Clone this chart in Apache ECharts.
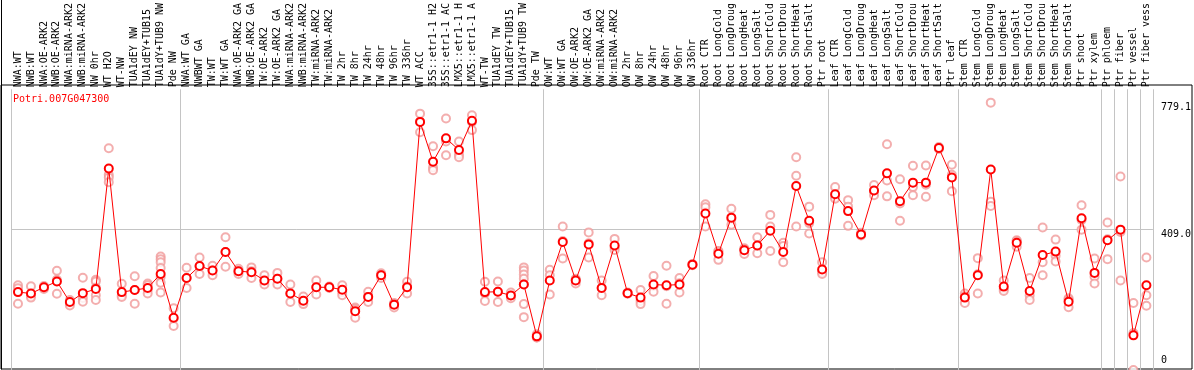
<!DOCTYPE html>
<html>
<head>
<meta charset="utf-8">
<script src="https://cdn.jsdelivr.net/npm/echarts@6/dist/echarts.min.js"></script>
<style>
  html, body { margin: 0; padding: 0; background: #fff; }
  #chart { width: 1194px; height: 370px; }
</style>
</head>
<body>
<div id="chart"></div>
<script>
const geneId = 'Potri.007G047300';

const categories = [
  'NWA:WT', 'NWB:WT', 'NWA:OE-ARK2', 'NWB:OE-ARK2', 'NWA:miRNA-ARK2', 'NWB:miRNA-ARK2',
  'NW 0hr', 'WT H2O', 'WT-NW', 'TUA1dEY NW', 'TUA1dEY+TUB15', 'TUA1dY+TUB9 NW', 'Pde NW',
  'NWA:WT GA', 'NWBWT GA', 'TW:WT', 'TW:WT GA', 'NWA:OE-ARK2 GA', 'NWB:OE-ARK2 GA',
  'TW:OE-ARK2', 'TW:OE-ARK2 GA', 'NWA:miRNA-ARK2', 'NWB:miRNA-ARK2', 'TW:miRNA-ARK2', 'TW:miRNA-ARK2',
  'TW 2hr', 'TW 8hr', 'TW 24hr', 'TW 48hr', 'TW 96hr', 'TW 336hr', 'WT ACC',
  '35S::etr1-1 H2', '35S::etr1-1 AC', 'LMX5::etr1-1 H', 'LMX5::etr1-1 A', 'WT-TW',
  'TUA1dEY TW', 'TUA1dEY+TUB15', 'TUA1dY+TUB9 TW', 'Pde TW',
  'OW:WT', 'OW:WT GA', 'OW:OE-ARK2', 'OW:OE-ARK2 GA', 'OW:miRNA-ARK2', 'OW:miRNA-ARK2',
  'OW 2hr', 'OW 8hr', 'OW 24hr', 'OW 48hr', 'OW 96hr', 'OW 336hr',
  'Root CTR', 'Root LongCold', 'Root LongDroug', 'Root LongHeat', 'Root LongSalt',
  'Root ShortCold', 'Root ShortDrou', 'Root ShortHeat', 'Root ShortSalt', 'Ptr root',
  'Leaf CTR', 'Leaf LongCold', 'Leaf LongDroug', 'Leaf LongHeat', 'Leaf LongSalt',
  'Leaf ShortCold', 'Leaf ShortDrou', 'Leaf ShortHeat', 'Leaf ShortSalt', 'Ptr leaf',
  'Stem CTR', 'Stem LongCold', 'Stem LongDroug', 'Stem LongHeat', 'Stem LongSalt',
  'Stem ShortCold', 'Stem ShortDrou', 'Stem ShortHeat', 'Stem ShortSalt', 'Ptr shoot',
  'Ptr xylem', 'Ptr phloem', 'Ptr fiber', 'Ptr vessel', 'Ptr fiber vess'
];

const means = [
  227, 223, 241, 258, 198, 224, 236, 587, 227, 233, 239, 280, 152,
  268, 303, 290, 344, 288, 285, 261, 266, 223, 202, 241, 241, 234, 171, 213,
  276, 190, 241, 723, 607, 675, 641, 726, 227, 228, 217, 249, 98,
  261, 373, 261, 366, 239, 363, 224, 211, 249, 247, 249, 307,
  456, 339, 444, 349, 363, 406, 344, 536, 435, 293,
  512, 463, 395, 523, 573, 492, 546, 546, 647, 561,
  211, 276, 584, 243, 371, 230, 335, 345, 199, 442,
  283, 378, 409, 101, 247
];

const replicates = [
  [247, 238, 193], [244, 217, 211], [245, 239, 236], [289, 263, 222], [204, 195, 188],
  [269, 210, 199], [263, 258, 240, 218, 204], [646, 569, 561, 547], [251, 217, 213],
  [273, 233, 193], [252, 247, 234, 223], [331, 323, 314, 297, 271, 254, 226], [180, 150, 128],
  [298, 268, 239], [328, 302, 280], [304, 290, 276], [387, 344, 301], [295, 288, 280],
  [299, 288, 268], [276, 259, 249], [283, 266, 249], [249, 223, 198], [214, 200, 192],
  [261, 241, 220], [243, 241, 239], [247, 227, 218], [182, 178, 152], [228, 213, 198],
  [282, 277, 268], [195, 193, 182], [257, 243, 223], [747, 723, 693], [652, 590, 582],
  [733, 666, 626], [666, 628, 620], [742, 723, 699], [257, 223, 201], [258, 228, 198],
  [226, 216, 209], [299, 290, 278, 266, 250, 192, 154], [104, 95, 95],
  [292, 276, 220], [418, 376, 325], [266, 263, 252], [401, 369, 328], [261, 239, 218],
  [382, 358, 350], [226, 224, 222], [233, 201, 192], [274, 245, 228], [304, 244, 193],
  [268, 253, 226], [309, 307, 305],
  [483, 474, 418], [347, 345, 321], [470, 440, 423], [355, 352, 338], [387, 362, 340],
  [452, 418, 347], [371, 361, 314], [620, 566, 418], [476, 428, 398], [314, 285, 280],
  [533, 504, 499], [495, 476, 420], [400, 395, 392], [539, 521, 509], [658, 552, 506],
  [556, 485, 435], [595, 533, 509], [596, 540, 505], [650, 647, 644], [598, 569, 521],
  [223, 215, 195], [326, 279, 223], [779.1, 490, 478], [261, 236, 230], [378, 376, 359],
  [268, 217, 204], [415, 314, 276], [380, 333, 316], [209, 205, 183], [480, 437, 409],
  [325, 272, 252], [430, 381, 323], [564, 402, 261], [195, 108, 0], [328, 218, 187]
];

const groupStarts = [0, 13, 41, 53, 63, 73, 84, 85, 86, 87];
const yTickValues = [409.0, 779.1];
const yZeroLabel = [0];
const yMin = 0;
const yMax = 818;

const MONO = 'DejaVu Sans Mono';
const GRAY = '#c4c4c4';
const isGroupStart = (idx) => groupStarts.indexOf(idx) !== -1;

const replicatePoints = [];
replicates.forEach((arr, i) => arr.forEach(v => replicatePoints.push([i, v])));

const chart = echarts.init(document.getElementById('chart'), null, { renderer: 'canvas' });

chart.setOption({
  animation: false,
  backgroundColor: '#fff',
  title: {
    text: geneId,
    left: 8, top: 89,
    textStyle: { color: '#ff0000', fontFamily: MONO, fontSize: 10, fontWeight: 'normal' }
  },
  grid: [
    { left: 11.5, width: 1144, top: 85, height: 286.5, show: false },
    { left: 1, right: 2, top: 85, bottom: 1, show: true, borderColor: '#000', borderWidth: 1, backgroundColor: 'transparent' },
    { left: 1, right: 2, top: 0, bottom: 1, show: false }
  ],
  xAxis: [
    {
      gridIndex: 0, type: 'category', data: categories, position: 'top', boundaryGap: true,
      axisLine: { show: false },
      axisTick: { show: true, length: 85, interval: isGroupStart, lineStyle: { color: GRAY, width: 1 } },
      axisLabel: { interval: 0, rotate: 90, margin: 2, fontFamily: MONO, fontSize: 10, color: '#000' },
      splitLine: { show: true, interval: isGroupStart, lineStyle: { color: GRAY, width: 1 } }
    },
    { gridIndex: 1, type: 'value', show: false, min: 0, max: 1 },
    { gridIndex: 2, type: 'value', show: false, min: 0, max: 1 }
  ],
  yAxis: [
    {
      gridIndex: 0, type: 'value', min: yMin, max: yMax, position: 'right',
      axisLine: { show: false }, axisTick: { show: false }, splitLine: { show: false },
      axisLabel: {
        customValues: yTickValues, margin: 8, verticalAlign: 'top',
        fontFamily: MONO, fontSize: 10, color: '#000',
        formatter: (v) => Number(v).toFixed(1)
      }
    },
    {
      gridIndex: 0, type: 'value', min: yMin, max: yMax, position: 'right',
      axisLine: { show: false }, axisTick: { show: false }, splitLine: { show: false },
      axisLabel: {
        customValues: yZeroLabel, margin: 8, verticalAlign: 'bottom', padding: [0, 0, 5, 0],
        fontFamily: MONO, fontSize: 10, color: '#000',
        formatter: (v) => String(v)
      }
    },
    { gridIndex: 1, type: 'value', show: false, min: 0, max: 1 },
    {
      gridIndex: 2, type: 'value', position: 'right', min: 0, max: 1,
      axisLine: { show: true, lineStyle: { color: '#000', width: 1 } },
      axisTick: { show: false }, axisLabel: { show: false }, splitLine: { show: false }
    }
  ],
  series: [
    {
      type: 'scatter', xAxisIndex: 0, yAxisIndex: 0, data: replicatePoints,
      symbol: 'emptyCircle', symbolSize: 8, clip: false, silent: true, z: 2,
      itemStyle: { color: '#f09a9a', borderColor: '#f09a9a', borderWidth: 1.1 }
    },
    {
      type: 'line', xAxisIndex: 0, yAxisIndex: 0, data: means,
      symbol: 'emptyCircle', symbolSize: 8, showSymbol: true, z: 3, silent: true,
      lineStyle: { color: '#ff0000', width: 1 },
      itemStyle: { color: '#ff0000', borderColor: '#d40000', borderWidth: 1.6 },
      markLine: {
        silent: true, symbol: ['none', 'none'], label: { show: false },
        lineStyle: { color: GRAY, width: 1, type: 'solid' },
        data: [{ yAxis: yTickValues[0] }],
        z: 1
      }
    }
  ]
});
</script>
</body>
</html>
